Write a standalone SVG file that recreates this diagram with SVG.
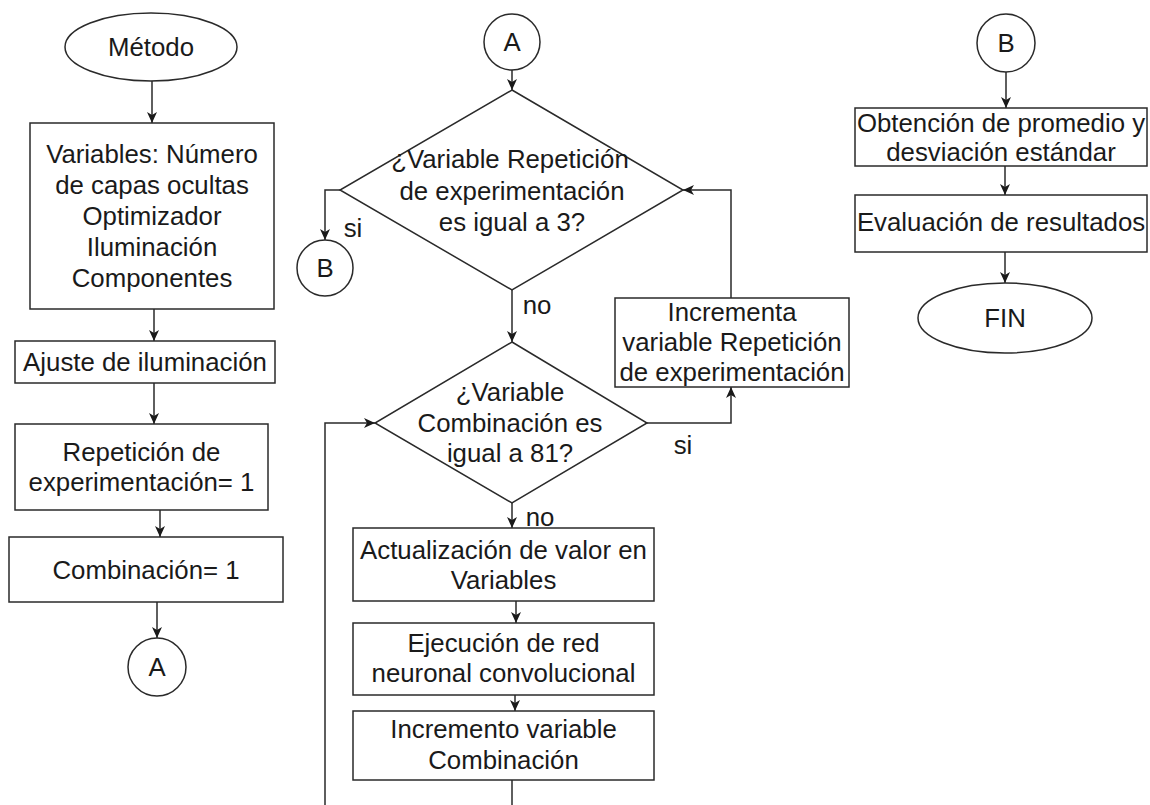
<svg xmlns="http://www.w3.org/2000/svg" width="1150" height="805" viewBox="0 0 1150 805">
<defs>
<marker id="arr" viewBox="0 0 12 12" refX="11" refY="6" markerWidth="12" markerHeight="12" markerUnits="userSpaceOnUse" orient="auto">
<path d="M0,1 L11,6 L0,11 L3,6 z" fill="#1a1a1a"/>
</marker>
<style>
.s{fill:#fff;stroke:#2a2a2a;stroke-width:1.5}
.t{font-family:"Liberation Sans",Arial,sans-serif;font-size:25.8px;fill:#1a1a1a;text-anchor:middle}
.c{fill:none;stroke:#2a2a2a;stroke-width:1.5}
.a{fill:none;stroke:#2a2a2a;stroke-width:1.5;marker-end:url(#arr)}
</style>
</defs>
<rect width="1150" height="805" fill="#fff"/>
<g id="connectors">
<line class="a" x1="152" y1="81" x2="152" y2="123"/>
<line class="a" x1="154" y1="309" x2="154" y2="341"/>
<line class="a" x1="154" y1="383" x2="154" y2="424"/>
<line class="a" x1="160" y1="510" x2="160" y2="537"/>
<line class="a" x1="157" y1="602" x2="157" y2="638"/>
<line class="a" x1="512" y1="70" x2="512" y2="90"/>
<polyline class="a" points="340,190 325,190 325,240"/>
<polyline class="a" points="731,298 731,190 683,190"/>
<line class="a" x1="512" y1="290" x2="512" y2="342"/>
<polyline class="a" points="647,423 731,423 731,387"/>
<polyline class="a" points="325,805 325,423 375,423"/>
<line class="a" x1="512" y1="503" x2="512" y2="528"/>
<line class="a" x1="516" y1="601" x2="516" y2="623"/>
<line class="a" x1="515" y1="695" x2="515" y2="711"/>
<line class="c" x1="512" y1="780" x2="512" y2="805"/>
<line class="a" x1="1006" y1="72" x2="1006" y2="108"/>
<line class="a" x1="1005" y1="166" x2="1005" y2="195"/>
<line class="a" x1="1005" y1="252" x2="1005" y2="283"/>
<text class="t" x="353" y="237">si</text>
<text class="t" x="537" y="314">no</text>
<text class="t" x="683" y="454">si</text>
<text class="t" x="540" y="526">no</text>
</g>
<g id="metodo">
<ellipse class="s" cx="151" cy="47" rx="86" ry="34"/>
<text class="t" x="151" y="56">Método</text>
</g>
<g id="variables">
<rect class="s" x="30" y="123" width="244" height="186"/>
<text class="t" x="152" y="163">Variables: Número</text>
<text class="t" x="152" y="194">de capas ocultas</text>
<text class="t" x="152" y="225">Optimizador</text>
<text class="t" x="152" y="256">Iluminación</text>
<text class="t" x="152" y="287">Componentes</text>
</g>
<g id="ajuste">
<rect class="s" x="15" y="341" width="260" height="42"/>
<text class="t" x="145" y="371">Ajuste de iluminación</text>
</g>
<g id="repeticion">
<rect class="s" x="15" y="424" width="253" height="86"/>
<text class="t" x="141.5" y="461">Repetición de</text>
<text class="t" x="141.5" y="491">experimentación= 1</text>
</g>
<g id="combinacion">
<rect class="s" x="9" y="537" width="274" height="65"/>
<text class="t" x="146" y="579">Combinación= 1</text>
</g>
<g id="connA1">
<circle class="s" cx="157" cy="667" r="29"/>
<text class="t" x="157" y="676">A</text>
</g>
<g id="connA2">
<circle class="s" cx="512" cy="42" r="28"/>
<text class="t" x="512" y="51">A</text>
</g>
<g id="decision1">
<polygon class="s" points="512,90 683,190 512,290 340,190"/>
<text class="t" x="510" y="168">¿Variable Repetición</text>
<text class="t" x="512" y="200">de experimentación</text>
<text class="t" x="512" y="231">es igual a 3?</text>
</g>
<g id="connB1">
<circle class="s" cx="325" cy="268" r="28"/>
<text class="t" x="325" y="277">B</text>
</g>
<g id="decision2">
<polygon class="s" points="512,342 647,423 512,503 375,423"/>
<text class="t" x="510" y="401">¿Variable</text>
<text class="t" x="510" y="432">Combinación es</text>
<text class="t" x="510" y="462">igual a 81?</text>
</g>
<g id="incrementa">
<rect class="s" x="615" y="298" width="234" height="89"/>
<text class="t" x="732" y="321">Incrementa</text>
<text class="t" x="732" y="351">variable Repetición</text>
<text class="t" x="732" y="381">de experimentación</text>
</g>
<g id="actualizacion">
<rect class="s" x="353" y="528" width="301" height="73"/>
<text class="t" x="503.5" y="559">Actualización de valor en</text>
<text class="t" x="503.5" y="589">Variables</text>
</g>
<g id="ejecucion">
<rect class="s" x="353" y="623" width="301" height="72"/>
<text class="t" x="503.5" y="652">Ejecución de red</text>
<text class="t" x="503.5" y="682">neuronal convolucional</text>
</g>
<g id="incremento">
<rect class="s" x="353" y="711" width="301" height="69"/>
<text class="t" x="503.5" y="738">Incremento variable</text>
<text class="t" x="503.5" y="769">Combinación</text>
</g>
<g id="connB2">
<circle class="s" cx="1006" cy="43" r="29"/>
<text class="t" x="1006" y="52">B</text>
</g>
<g id="obtencion">
<rect class="s" x="855" y="108" width="292" height="58"/>
<text class="t" x="1001" y="132">Obtención de promedio y</text>
<text class="t" x="1001" y="161">desviación estándar</text>
</g>
<g id="evaluacion">
<rect class="s" x="855" y="195" width="292" height="57"/>
<text class="t" x="1001" y="231">Evaluación de resultados</text>
</g>
<g id="fin">
<ellipse class="s" cx="1005" cy="318" rx="87" ry="35"/>
<text class="t" x="1005" y="327">FIN</text>
</g>
</svg>
